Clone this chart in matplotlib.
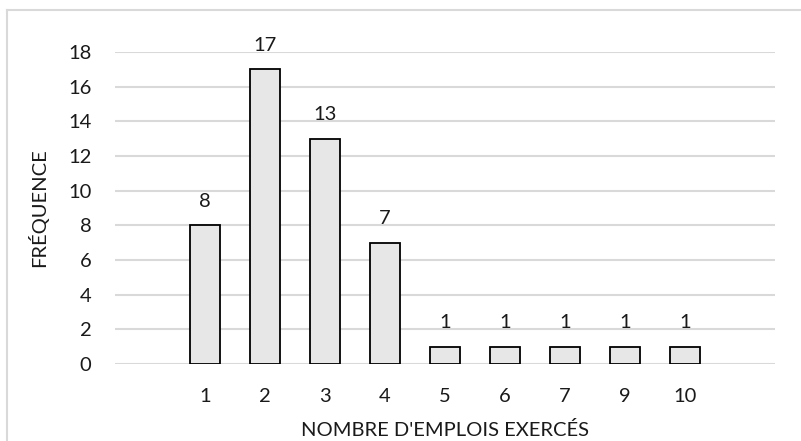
import matplotlib
matplotlib.use("Agg")
import matplotlib.pyplot as plt
from matplotlib.lines import Line2D

# categories (empty slots at both ends, like the Excel source)
categories = ["", "1", "2", "3", "4", "5", "6", "7", "9", "10", ""]
frequencies = [None, 8, 17, 13, 7, 1, 1, 1, 1, 1, None]
y_ticks = [0, 2, 4, 6, 8, 10, 12, 14, 16, 18]

plt.rcParams["font.family"] = ["Lato", "DejaVu Sans"]
FS = 14.5
TXT = "#1a1a1a"

W, H = 801, 441
fig = plt.figure(figsize=(W / 100, H / 100), dpi=100)
ax = fig.add_axes([115 / W, (H - 364) / H, 660 / W, 312 / H])

xs = [i for i, v in enumerate(frequencies) if v is not None]
vals = [v for v in frequencies if v is not None]
ax.bar(xs, vals, width=0.5, color="#e7e7e7", edgecolor="black",
       linewidth=1.3, zorder=3)
for x, v in zip(xs, vals):
    ax.annotate(str(v), (x, v), xytext=(0, 11), textcoords="offset points",
                ha="center", va="bottom", fontsize=FS, color=TXT,
                annotation_clip=False)

ax.set_xlim(-0.5, len(categories) - 0.5)
ax.set_ylim(0, 18)
ax.set_xticks(range(len(categories)))
ax.set_xticklabels(categories)
ax.set_yticks(y_ticks)
ax.tick_params(axis="both", length=0, labelsize=FS, labelcolor=TXT)
ax.tick_params(axis="x", pad=17)
ax.tick_params(axis="y", pad=17)
ax.grid(axis="y", color="#d9d9d9", linewidth=1.5, zorder=0)
ax.set_axisbelow(True)
for s in ax.spines.values():
    s.set_visible(False)

ax.set_xlabel("NOMBRE D'EMPLOIS EXERCÉS", fontsize=FS, color=TXT, labelpad=12)
ax.set_ylabel("FRÉQUENCE", fontsize=FS, color=TXT, labelpad=14)

# chart border (left and top edges visible)
fig.add_artist(Line2D([6.5 / W, 6.5 / W], [0, (H - 10) / H], color="#d9d9d9",
                      linewidth=1.5, transform=fig.transFigure))
fig.add_artist(Line2D([6.5 / W, 1], [(H - 10) / H, (H - 10) / H], color="#d9d9d9",
                      linewidth=1.5, transform=fig.transFigure))

fig.savefig("out.png", dpi=100)
